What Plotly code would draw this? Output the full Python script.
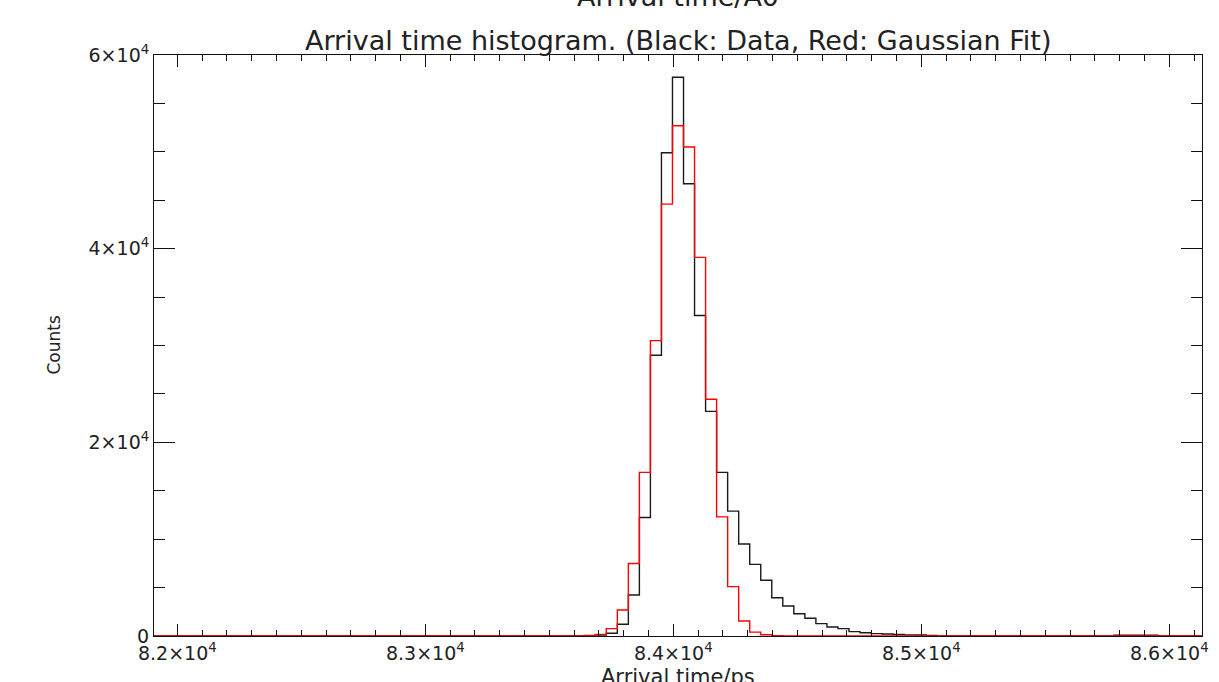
import plotly.graph_objects as go

# ---- data ----
x_min = 81906.0
x_max = 86132.0
n_bins = 95

data_counts = [
    0, 0, 0, 0, 0, 0, 0, 0, 0, 0,
    0, 0, 0, 0, 0, 0, 0, 0, 0, 0,
    0, 0, 0, 0, 0, 0, 0, 0, 0, 0,
    0, 0, 0, 0, 0, 0, 0, 0, 0, 50,
    100, 280, 1210, 4240, 12240, 29000, 49900, 57700, 46700, 33100,
    23200, 16900, 12900, 9500, 7400, 5750, 3950, 3100, 2300, 1830,
    1280, 930, 760, 450, 340, 250, 200, 150, 120, 100,
    60, 0, 0, 0, 0, 0, 0, 0, 0, 0,
    0, 0, 0, 0, 0, 0, 0, 80, 80, 80,
    80, 0, 0, 0, 0,
]

fit_counts = [
    0, 0, 0, 0, 0, 0, 0, 0, 0, 0,
    0, 0, 0, 0, 0, 0, 0, 0, 0, 0,
    0, 0, 0, 0, 0, 0, 0, 0, 0, 0,
    0, 0, 0, 0, 0, 0, 0, 0, 0, 30,
    170, 760, 2690, 7480, 16900, 30500, 44600, 52700, 50500, 39100,
    24450, 12300, 5100, 1550, 400, 130, 30, 0, 0, 0,
    0, 0, 0, 0, 0, 0, 0, 0, 0, 0,
    0, 0, 0, 0, 0, 0, 0, 0, 0, 0,
    0, 0, 0, 0, 0, 0, 0, 0, 0, 0,
    0, 0, 0, 0, 0,
]

x_tick_vals = [82000, 83000, 84000, 85000, 86000]
x_tick_text = ["8.2×10<sup>4</sup>", "8.3×10<sup>4</sup>", "8.4×10<sup>4</sup>",
               "8.5×10<sup>4</sup>", "8.6×10<sup>4</sup>"]
y_tick_vals = [0, 20000, 40000, 60000]
y_tick_text = ["0", "2×10<sup>4</sup>", "4×10<sup>4</sup>", "6×10<sup>4</sup>"]

title_top = "Arrival time/A0"
title_main = "Arrival time histogram. (Black: Data, Red: Gaussian Fit)"
x_title = "Arrival time/ps"
y_title = "Counts"

# ---- build step coordinates (left edges, plus closing right edge) ----
bin_w = (x_max - x_min) / n_bins
edges = [x_min + i * bin_w for i in range(n_bins + 1)]


def steps(counts):
    return edges, list(counts) + [counts[-1]]


FONT = "DejaVu Sans"
TXT = "#222222"

fig = go.Figure()
xd, yd = steps(data_counts)
fig.add_trace(go.Scatter(x=xd, y=yd, mode="lines", line_shape="hv",
                         line=dict(color="#1a1a1a", width=1.4),
                         showlegend=False, hoverinfo="skip"))
xf, yf = steps(fit_counts)
fig.add_trace(go.Scatter(x=xf, y=yf, mode="lines", line_shape="hv",
                         line=dict(color="#ff0000", width=1.4),
                         showlegend=False, hoverinfo="skip"))

PH = 581  # plot height in px
PW = 1048  # plot width in px

fig.update_layout(
    width=1219, height=682,
    margin=dict(l=154, r=17, t=55, b=46),
    paper_bgcolor="white", plot_bgcolor="white",
    font=dict(family=FONT, color=TXT, size=19),
    showlegend=False,
)

fig.update_xaxes(
    range=[x_min, x_max], showgrid=False, zeroline=False, automargin=False,
    showline=True, linecolor="#111", linewidth=1, mirror="ticks",
    ticks="inside", ticklen=12, tickcolor="#111", tickwidth=1,
    tickvals=x_tick_vals, ticktext=x_tick_text,
    tickfont=dict(size=19, family=FONT, color=TXT),
    minor=dict(ticks="inside", ticklen=6, dtick=100, tickcolor="#111", tickwidth=1, showgrid=False),
)
fig.update_yaxes(
    range=[0, 60000], showgrid=False, zeroline=False, automargin=False,
    showline=True, linecolor="#111", linewidth=1, mirror="ticks",
    ticks="inside", ticklen=21, tickcolor="#111", tickwidth=1,
    tickvals=y_tick_vals, ticktext=y_tick_text,
    tickfont=dict(size=19, family=FONT, color=TXT),
    minor=dict(ticks="inside", ticklen=11, dtick=5000, tickcolor="#111", tickwidth=1, showgrid=False),
)

annos = [
    dict(text=title_top, y=1 + 58 / PH, size=27),
    dict(text=title_main, y=1 + 15 / PH, size=27),
    dict(text=x_title, y=-41 / PH, size=21),
]
for a in annos:
    fig.add_annotation(text=a["text"], xref="paper", yref="paper", x=0.5, y=a["y"],
                       xanchor="center", yanchor="middle", showarrow=False,
                       font=dict(family=FONT, size=a["size"], color=TXT))
fig.add_annotation(text=y_title, xref="paper", yref="paper", x=-101 / PW, y=0.5,
                   xanchor="center", yanchor="middle", textangle=-90, showarrow=False,
                   font=dict(family=FONT, size=17, color=TXT))

# remove the default page margin so the figure sits at the window's top-left corner
fig.write_html("out.html", config={"displayModeBar": False},
               post_script="document.body.style.margin='0';")
